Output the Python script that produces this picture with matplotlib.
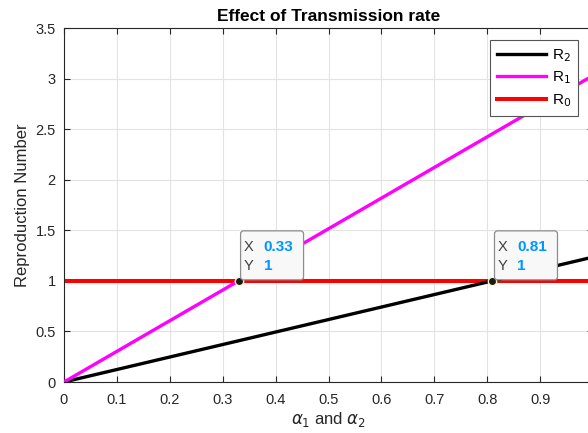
import matplotlib.pyplot as plt
import matplotlib.transforms as mtransforms
from matplotlib.patches import FancyBboxPatch
from matplotlib.transforms import offset_copy

plt.rcParams['font.family'] = ['Liberation Sans', 'DejaVu Sans']
plt.rcParams['mathtext.fontset'] = 'dejavusans'

# transmission rate sweep (line end points)
alpha = [0.0, 1.0]
R2 = [0.0, 1.235]
R1 = [0.0, 3.03]
R0 = [1.0, 1.0]

# threshold crossings marked with data tips
tip_x = [0.33, 0.81]
tip_y = [1, 1]
tip_text_x = ['0.33', '0.81']
tip_text_y = ['1', '1']

xticks = [0, 0.1, 0.2, 0.3, 0.4, 0.5, 0.6, 0.7, 0.8, 0.9]
xtick_labels = ['0', '0.1', '0.2', '0.3', '0.4', '0.5', '0.6', '0.7', '0.8', '0.9']
yticks = [0, 0.5, 1, 1.5, 2, 2.5, 3, 3.5]
ytick_labels = ['0', '0.5', '1', '1.5', '2', '2.5', '3', '3.5']

fig = plt.figure(figsize=(5.88, 4.33), dpi=100)
ax = fig.add_axes([64 / 588, 51 / 433, 529 / 588, 354 / 433])

ax.plot(alpha, R2, color='black', lw=2.4, label='R$_2$', zorder=3)
ax.plot(alpha, R1, color='#ff00ff', lw=2.4, label='R$_1$', zorder=3)
ax.plot(alpha, R0, color='#ff0000', lw=2.9, label='R$_0$', zorder=2)

ax.set_xlim(0, 1)
ax.set_ylim(0, 3.5)
ax.set_xticks(xticks)
ax.set_xticklabels(xtick_labels)
ax.set_yticks(yticks)
ax.set_yticklabels(ytick_labels)
ax.tick_params(direction='in', top=True, right=True, labelsize=10.5, colors='#262626', length=4)
ax.tick_params(axis='x', pad=8)
ax.tick_params(axis='y', pad=6)
ax.grid(True, color='#e3e3e3', lw=0.8)
ax.set_axisbelow(True)
for s in ax.spines.values():
    s.set_color('#262626')
    s.set_linewidth(0.8)

ax.set_title('Effect of Transmission rate', fontsize=12.5, fontweight='bold', pad=5)
ax.set_xlabel(r'$\alpha_1$ and $\alpha_2$', fontsize=12, color='#262626', labelpad=2)
ax.set_ylabel('Reproduction Number', fontsize=12, color='#262626', labelpad=4)

leg = ax.legend(loc='upper right', bbox_to_anchor=(0.972, 0.966), borderaxespad=0,
                fontsize=11, fancybox=False, edgecolor='#555555', framealpha=1,
                handlelength=3.2, borderpad=0.45, labelspacing=0.4, handletextpad=0.4)
leg.get_frame().set_linewidth(0.8)

# data tips: marker plus a boxed readout anchored to the point (pixel offsets)
base = ax.transData
for x, y, tx, ty in zip(tip_x, tip_y, tip_text_x, tip_text_y):
    ax.plot(x, y, 'o', ms=6, mfc='#1a1a1a', mec='#fff8c0', mew=1.0, zorder=5)
    px, py = base.transform((x, y))
    box = FancyBboxPatch((0, 0), 63, 49, boxstyle='round,pad=0,rounding_size=3',
                         transform=mtransforms.Affine2D().translate(px + 2, py + 1),
                         fc='#f8f8f8', ec='#8c8c8c', lw=0.9, zorder=6)
    ax.add_patch(box)
    ax.text(x, y, 'X', transform=offset_copy(base, fig=fig, x=5, y=34, units='dots'),
            fontsize=10.5, color='#404040', va='center', ha='left', zorder=7)
    ax.text(x, y, 'Y', transform=offset_copy(base, fig=fig, x=5, y=15, units='dots'),
            fontsize=10.5, color='#404040', va='center', ha='left', zorder=7)
    ax.text(x, y, tx, transform=offset_copy(base, fig=fig, x=25, y=34, units='dots'),
            fontsize=11, color='#0096ff', fontweight='bold', va='center', ha='left', zorder=7)
    ax.text(x, y, ty, transform=offset_copy(base, fig=fig, x=25, y=15, units='dots'),
            fontsize=11, color='#0096ff', fontweight='bold', va='center', ha='left', zorder=7)

fig.savefig('out.png', dpi=100)
